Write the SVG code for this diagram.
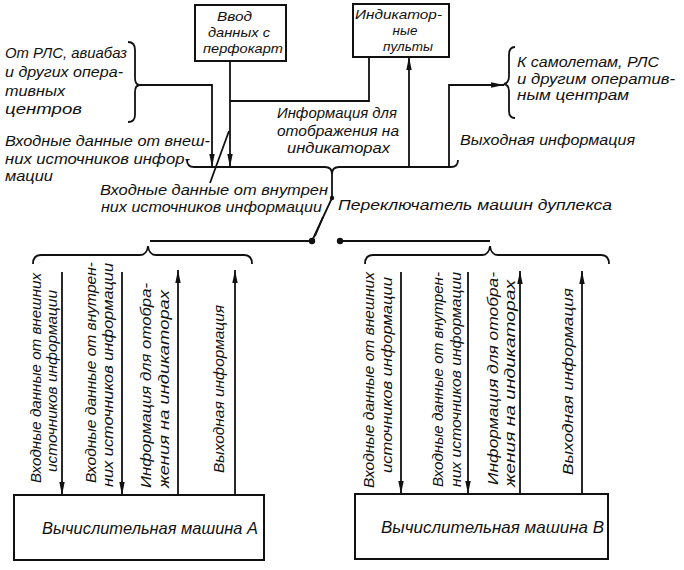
<svg xmlns="http://www.w3.org/2000/svg" width="684" height="570" viewBox="0 0 684 570">
<style>
text{font-family:"Liberation Sans",Arial,sans-serif;font-style:italic;font-size:15.5px;fill:#111}
.big{font-size:17px}
.sm{font-size:13.5px}
.box{fill:#fff;stroke:#111;stroke-width:2}
.ln{fill:none;stroke:#111;stroke-width:1.8}
.dot{fill:#111}
</style>
<defs>
<marker id="ah" markerUnits="userSpaceOnUse" markerWidth="13" markerHeight="7" refX="13" refY="3.5" orient="auto">
<path d="M0,0.8 L13,3.5 L0,6.2 z" fill="#111"/>
</marker>
</defs>
<rect width="684" height="570" fill="#fff"/>

<g id="connectors">
<path class="ln" d="M230,61 V167" marker-end="url(#ah)"/>
<path class="ln" d="M230,101 H369 V57"/>
<path class="ln" d="M137,85 H212 V167" marker-end="url(#ah)"/>
<path class="ln" d="M409,167 V57" marker-end="url(#ah)"/>
<path class="ln" d="M449,167 V85 H504" marker-end="url(#ah)"/>
<path class="ln" d="M187,160 Q187,167 194,167 L325,167 Q332,167 332,174 Q332,167 339,167 L451,167 Q458,167 458,160"/>
<path class="ln" d="M210,183 L229,131"/>
<path class="ln" d="M332,172 V198 L312,241"/>
<path class="ln" d="M323,217 L315,236" stroke-width="3.6"/>
<circle class="dot" cx="332" cy="198" r="2.2"/>
<circle class="dot" cx="312" cy="241" r="3.2"/>
<circle class="dot" cx="340" cy="241" r="3.2"/>
<path class="ln" d="M150,241 H312"/>
<path class="ln" d="M340,241 H490"/>
<path class="ln" d="M33,264 Q33,255 41,255 L140,255 Q147,255 148,246 Q149,255 156,255 L244,255 Q252,255 252,264"/>
<path class="ln" d="M365,264 Q365,255 373,255 L482,255 Q489,255 490,246 Q491,255 498,255 L601,255 Q609,255 609,264"/>
<path class="ln" d="M128,42 Q135,42 135,50 L135,78 Q135,85 140,85 Q135,85 135,92 L135,115 Q135,122 128,122"/>
<path class="ln" d="M515,47 Q509,47 509,55 L509,76 Q509,83 504,84 Q509,85 509,91 L509,111 Q509,118 515,118"/>
<path class="ln" d="M62,272 V495" marker-end="url(#ah)"/>
<path class="ln" d="M122,272 V495" marker-end="url(#ah)"/>
<path class="ln" d="M178,495 V270" marker-end="url(#ah)"/>
<path class="ln" d="M235,495 V270" marker-end="url(#ah)"/>
<path class="ln" d="M401,272 V494" marker-end="url(#ah)"/>
<path class="ln" d="M468,272 V494" marker-end="url(#ah)"/>
<path class="ln" d="M520,494 V271" marker-end="url(#ah)"/>
<path class="ln" d="M582,494 V271" marker-end="url(#ah)"/>
</g>

<g id="node-punch">
<rect class="box" x="195" y="5" width="91" height="56"/>
<text class="sm" x="217" y="21" textLength="35" lengthAdjust="spacingAndGlyphs">Ввод</text>
<text class="sm" x="208" y="37" textLength="62" lengthAdjust="spacingAndGlyphs">данных с</text>
<text class="sm" x="203" y="53" textLength="80" lengthAdjust="spacingAndGlyphs">перфокарт</text>
</g>

<g id="node-indicator">
<rect class="box" x="353" y="4" width="96" height="53"/>
<text class="sm" x="355" y="19" textLength="87" lengthAdjust="spacingAndGlyphs">Индикатор-</text>
<text class="sm" x="405" y="35" text-anchor="middle">ные</text>
<text class="sm" x="408" y="51" text-anchor="middle">пульты</text>
</g>

<g id="label-from-radar">
<text x="5" y="58" textLength="122" lengthAdjust="spacingAndGlyphs">От РЛС, авиабаз</text>
<text x="5" y="77" textLength="118" lengthAdjust="spacingAndGlyphs">и других опера-</text>
<text x="5" y="96" textLength="60" lengthAdjust="spacingAndGlyphs">тивных</text>
<text x="5" y="114" textLength="77" lengthAdjust="spacingAndGlyphs">центров</text>
</g>

<g id="label-external">
<text x="5" y="146" textLength="205" lengthAdjust="spacingAndGlyphs">Входные данные от внеш-</text>
<text x="5" y="164" textLength="185" lengthAdjust="spacingAndGlyphs">них источников инфор-</text>
<text x="5" y="181" textLength="48" lengthAdjust="spacingAndGlyphs">мации</text>
</g>

<g id="label-internal">
<text x="100" y="195" textLength="228" lengthAdjust="spacingAndGlyphs">Входные данные от внутрен</text>
<text x="101" y="212" textLength="221" lengthAdjust="spacingAndGlyphs">них источников информации</text>
</g>

<g id="label-switch">
<text x="338" y="210" textLength="274" lengthAdjust="spacingAndGlyphs">Переключатель машин дуплекса</text>
</g>

<g id="label-display">
<text x="277" y="118" textLength="120" lengthAdjust="spacingAndGlyphs">Информация для</text>
<text x="277" y="136" textLength="122" lengthAdjust="spacingAndGlyphs">отображения на</text>
<text x="287" y="153" textLength="103" lengthAdjust="spacingAndGlyphs">индикаторах</text>
</g>

<g id="label-to-planes">
<text x="517" y="67" textLength="142" lengthAdjust="spacingAndGlyphs">К самолетам, РЛС</text>
<text x="517" y="84" textLength="158" lengthAdjust="spacingAndGlyphs">и другим оператив-</text>
<text x="517" y="100" textLength="112" lengthAdjust="spacingAndGlyphs">ным центрам</text>
</g>

<g id="label-output">
<text x="460" y="145" textLength="175" lengthAdjust="spacingAndGlyphs">Выходная информация</text>
</g>

<g id="labels-a">
<text transform="translate(41,483) rotate(-90)" textLength="210" lengthAdjust="spacingAndGlyphs">Входные данные от внешних</text>
<text transform="translate(57,472) rotate(-90)" textLength="182" lengthAdjust="spacingAndGlyphs">источников информации</text>
<text transform="translate(96,483) rotate(-90)" textLength="221" lengthAdjust="spacingAndGlyphs">Входные данные от внутрен-</text>
<text transform="translate(113,487) rotate(-90)" textLength="224" lengthAdjust="spacingAndGlyphs">них источников информации</text>
<text transform="translate(151,488) rotate(-90)" textLength="205" lengthAdjust="spacingAndGlyphs">Информация для отобра-</text>
<text transform="translate(169,488) rotate(-90)" textLength="198" lengthAdjust="spacingAndGlyphs">жения на индикаторах</text>
<text transform="translate(224,473) rotate(-90)" textLength="168" lengthAdjust="spacingAndGlyphs">Выходная информация</text>
</g>

<g id="labels-b">
<text transform="translate(374,488) rotate(-90)" textLength="216" lengthAdjust="spacingAndGlyphs">Входные данные от внешних</text>
<text transform="translate(392,473) rotate(-90)" textLength="196" lengthAdjust="spacingAndGlyphs">источников информации</text>
<text transform="translate(443,487) rotate(-90)" textLength="215" lengthAdjust="spacingAndGlyphs">Входные данные от внутрен-</text>
<text transform="translate(461,487) rotate(-90)" textLength="215" lengthAdjust="spacingAndGlyphs">них источников информации</text>
<text transform="translate(498,485) rotate(-90)" textLength="213" lengthAdjust="spacingAndGlyphs">Информация для отобра-</text>
<text transform="translate(515,487) rotate(-90)" textLength="207" lengthAdjust="spacingAndGlyphs">жения на индикаторах</text>
<text transform="translate(573,475) rotate(-90)" textLength="187" lengthAdjust="spacingAndGlyphs">Выходная информация</text>
</g>

<g id="node-machine-a">
<rect class="box" x="14" y="495" width="250" height="65"/>
<text class="big" x="42" y="534" textLength="216" lengthAdjust="spacingAndGlyphs">Вычислительная машина А</text>
</g>

<g id="node-machine-b">
<rect class="box" x="355" y="494" width="253" height="65"/>
<text class="big" x="381" y="533" textLength="223" lengthAdjust="spacingAndGlyphs">Вычислительная машина В</text>
</g>
</svg>
